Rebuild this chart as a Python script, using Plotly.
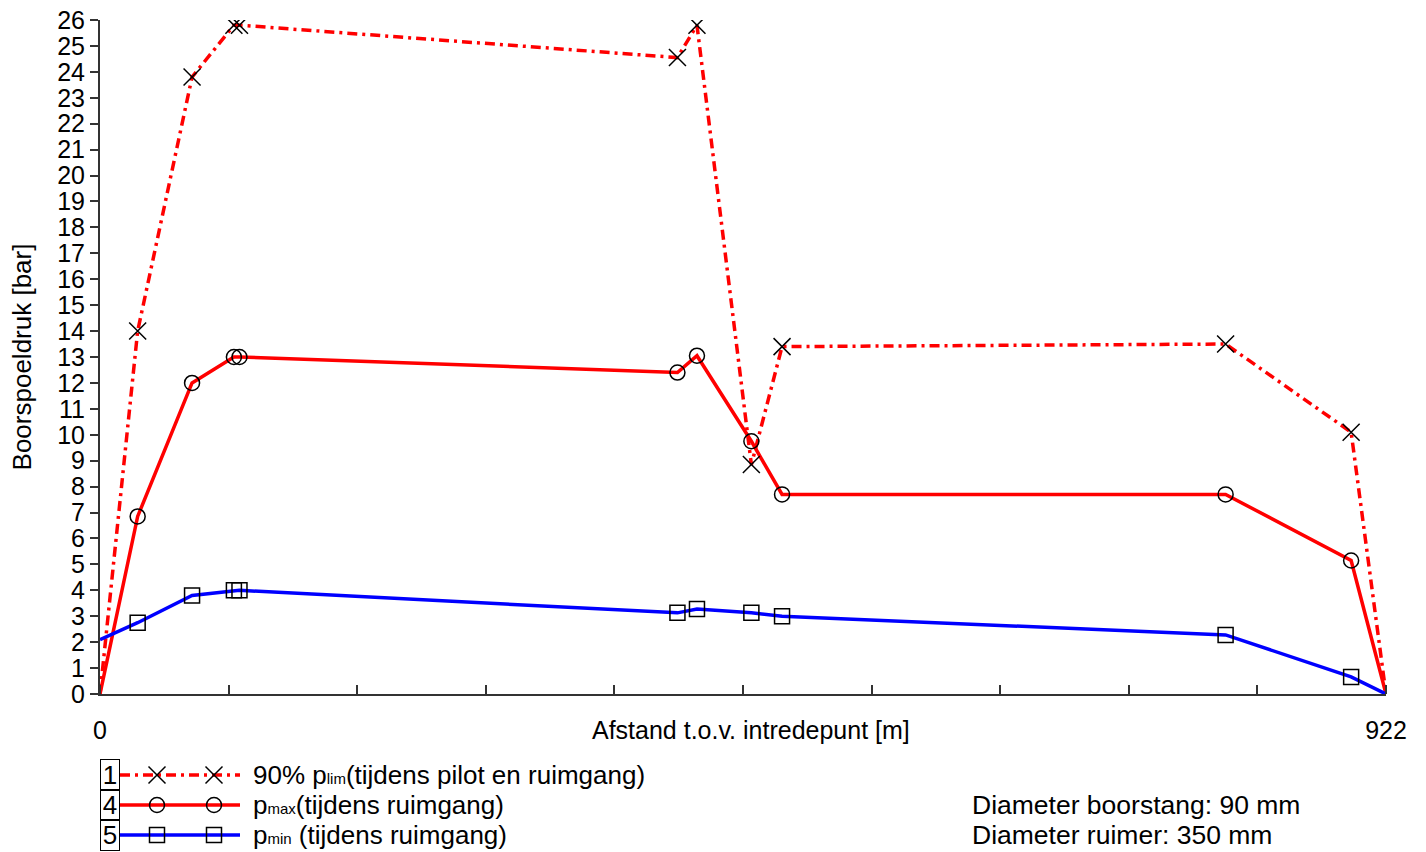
import plotly.graph_objects as go

# distances along the bore [m] and pressures [bar]
dist = [0, 27, 66, 96, 100, 414, 428, 467, 489, 807, 897, 922]
p_lim = [0, 14.0, 23.8, 25.8, 25.8, 24.55, 25.8, 8.85, 13.4, 13.5, 10.1, 0]
p_max = [0, 6.85, 12.0, 13.0, 13.0, 12.4, 13.05, 9.75, 7.7, 7.7, 5.15, 0]
p_min = [2.1, 2.75, 3.8, 4.0, 4.0, 3.13, 3.28, 3.13, 3.0, 2.28, 0.66, 0]

x_max = 922
x_labels = [0, 922]

SUB = '<span style="font-size:15px">{}</span>'
legend_labels = [
    '90% p' + SUB.format('lim') + '(tijdens pilot en ruimgang)',
    'p' + SUB.format('max') + '(tijdens ruimgang)',
    'p' + SUB.format('min') + ' (tijdens ruimgang)',
]
legend_numbers = ['1', '4', '5']
info_lines = ['Diameter boorstang: 90 mm', 'Diameter ruimer: 350 mm']

FONT = 'Liberation Sans, Arial, sans-serif'
RED = '#ff0000'
BLUE = '#0000ff'
DASHDOT = '10px,5px,3px,5px'

series = [
    (p_lim, RED, DASHDOT, 'x-thin-open'),
    (p_max, RED, 'solid', 'circle-open'),
    (p_min, BLUE, 'solid', 'square-open'),
]
marker_size = {'x-thin-open': 17, 'circle-open': 15, 'square-open': 15}

fig = go.Figure()

for vals, color, dash, sym in series:
    fig.add_trace(go.Scatter(
        x=dist, y=vals, mode='lines',
        line=dict(color=color, width=3.5, dash=dash),
        showlegend=False, hoverinfo='skip',
    ))
for vals, color, dash, sym in series:
    # end points carry no marker
    fig.add_trace(go.Scatter(
        x=dist[1:-1], y=vals[1:-1], mode='markers',
        marker=dict(symbol=sym, size=marker_size[sym], color='black',
                    line=dict(color='black', width=1.5)),
        showlegend=False,
    ))

# custom legend drawn in a pixel-scaled helper axis below the plot
row_y = [775, 805, 835]
for (vals, color, dash, sym), ry, num, lab in zip(series, row_y, legend_numbers, legend_labels):
    fig.add_trace(go.Scatter(
        x=[120, 240], y=[ry, ry], mode='lines', xaxis='x2', yaxis='y2',
        line=dict(color=color, width=3.5, dash=dash), showlegend=False, hoverinfo='skip',
    ))
    fig.add_trace(go.Scatter(
        x=[157, 214], y=[ry, ry], mode='markers', xaxis='x2', yaxis='y2',
        marker=dict(symbol=sym, size=marker_size[sym], color='black',
                    line=dict(color='black', width=1.5)),
        showlegend=False, hoverinfo='skip',
    ))
    fig.add_annotation(
        x=110, y=ry, xref='x2', yref='y2', text=num, showarrow=False,
        width=18, height=30, bordercolor='black', borderwidth=1, borderpad=0,
        font=dict(size=26, color='black', family=FONT),
    )
    fig.add_annotation(
        x=251, y=ry, xref='x2', yref='y2', text=lab, showarrow=False, xanchor='left',
        font=dict(size=26, color='black', family=FONT),
    )

for ry, txt in zip(row_y[1:], info_lines):
    fig.add_annotation(
        x=970, y=ry, xref='x2', yref='y2', text=txt, showarrow=False, xanchor='left',
        font=dict(size=26.5, color='black', family=FONT),
    )

fig.add_annotation(
    x=751, y=730, xref='x2', yref='y2', text='Afstand t.o.v. intredepunt [m]',
    showarrow=False, font=dict(size=25, color='black', family=FONT),
)

ax_col = '#333333'
bottom = (852 - 694) / 832

fig.update_layout(
    width=1426, height=852,
    margin=dict(l=100, r=40, t=20, b=0, autoexpand=False),
    plot_bgcolor='white', paper_bgcolor='white',
    font=dict(family=FONT, size=25, color='black'),
    xaxis=dict(
        range=[0, x_max], tickvals=x_labels, ticktext=[str(v) for v in x_labels],
        ticks='', showline=True, linecolor=ax_col, linewidth=2, showgrid=False, zeroline=False,
        minor=dict(tick0=0, dtick=x_max / 10, ticks='inside', ticklen=9, tickwidth=1.5,
                   tickcolor=ax_col, showgrid=False),
        ticklabelstandoff=13, tickfont=dict(size=25),
        anchor='y', automargin=False,
    ),
    yaxis=dict(
        range=[0, 26], dtick=1, domain=[bottom, 1],
        ticks='outside', ticklen=8, tickwidth=1.5, tickcolor=ax_col,
        showline=True, linecolor=ax_col, linewidth=2, showgrid=False, zeroline=False,
        tickfont=dict(size=25), automargin=False,
        title=dict(text='Boorspoeldruk [bar]', font=dict(size=26), standoff=18),
    ),
    yaxis3=dict(
        range=[0, 26], dtick=1, overlaying='y', anchor='x',
        ticks='inside', ticklen=8, tickwidth=1.5, tickcolor=ax_col,
        showticklabels=False, showgrid=False, zeroline=False, showline=False,
    ),
    xaxis2=dict(range=[100, 1386], domain=[0, 1], anchor='y2', visible=False),
    yaxis2=dict(range=[852, 694], domain=[0, bottom], anchor='x2', visible=False),
)

fig.write_html('out.html', config={'displayModeBar': False},
               post_script="document.body.style.margin='0';")
